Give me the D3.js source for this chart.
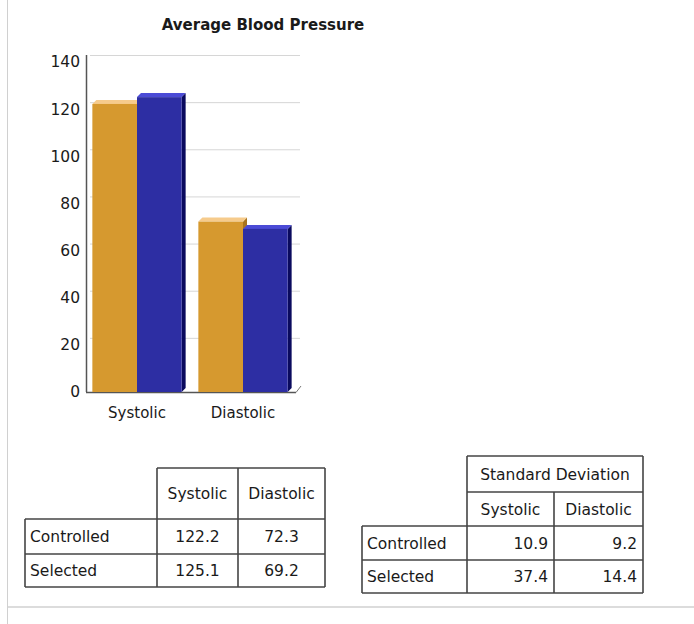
<!DOCTYPE html>
<meta charset="utf-8">
<style>
body { margin: 0; background: #fff; }
text { font-family: "DejaVu Sans", Verdana, sans-serif; fill: #1a1a1a; }
</style>
<body>
<script src="https://d3js.org/d3.v7.min.js"></script>
<script>

var categories = ["Systolic", "Diastolic"];
var seriesNames = ["Controlled", "Selected"];
var controlled = [122.2, 72.3];
var selected = [125.1, 69.2];
var sdControlled = [10.9, 9.2];
var sdSelected = [37.4, 14.4];
var yTicks = [0, 20, 40, 60, 80, 100, 120, 140];

var width = 694, height = 624;
var depth = 4, wallShift = 7;
var cellFont = "15.5px";

var svg = d3.select("body").append("svg")
    .attr("width", width)
    .attr("height", height);

// page frame
svg.append("line").attr("x1", 7.5).attr("x2", 7.5).attr("y1", 0).attr("y2", height)
    .attr("stroke", "#d0d0d0");
svg.append("line").attr("x1", 8).attr("x2", width).attr("y1", 607).attr("y2", 607)
    .attr("stroke", "#dcdcdc").attr("stroke-width", 2);

svg.append("text")
    .attr("x", 263).attr("y", 30)
    .attr("text-anchor", "middle")
    .style("font-weight", "bold").style("font-size", "15px")
    .text("Average Blood Pressure");

var y = d3.scaleLinear().domain([0, 140]).range([392, 62]);
var x = d3.scaleBand().domain(categories).range([86, 298])
    .paddingInner(0.12).paddingOuter(0.06);
var xs = d3.scaleBand().domain(seriesNames).range([0, x.bandwidth() - depth]);

// back wall gridlines
svg.append("g").selectAll("line").data(yTicks.filter(function(d) { return d > 0; }))
  .join("line")
    .attr("x1", 90).attr("x2", 300)
    .attr("y1", function(d) { return y(d) - wallShift + 0.5; })
    .attr("y2", function(d) { return y(d) - wallShift + 0.5; })
    .attr("stroke", "#d6d6d6");

// y axis
var yAxis = svg.append("g").attr("transform", "translate(86,0)")
    .call(d3.axisLeft(y).tickValues(yTicks).tickSize(0).tickPadding(6));
yAxis.select(".domain").remove();
yAxis.selectAll("text").style("font-size", "15.5px").attr("fill", "#1a1a1a");
svg.append("line").attr("x1", 86.5).attr("x2", 86.5).attr("y1", 55).attr("y2", 392)
    .attr("stroke", "#555").attr("stroke-width", 1.5);
svg.append("line").attr("x1", 86).attr("x2", 296).attr("y1", 392.5).attr("y2", 392.5)
    .attr("stroke", "#555").attr("stroke-width", 1.5);
svg.append("line").attr("x1", 296).attr("x2", 301).attr("y1", 392.5).attr("y2", 386)
    .attr("stroke", "#777");

// bars
var styles = {
  Controlled: { front: "#d6992f", top: "#f6cb8c", side: "#a8741e" },
  Selected: { front: "#2d2ea3", top: "#4b4bd6", side: "#0a0a5e" }
};
var rows = [];
categories.forEach(function(c, i) {
  rows.push({ cat: c, s: "Controlled", v: controlled[i] });
  rows.push({ cat: c, s: "Selected", v: selected[i] });
});

var bars = svg.append("g").selectAll("g").data(rows).join("g")
    .attr("transform", function(d) { return "translate(" + (x(d.cat) + xs(d.s)) + ",0)"; });
var bw = xs.bandwidth();
bars.append("path")
    .attr("fill", function(d) { return styles[d.s].side; })
    .attr("d", function(d) {
      var t = y(d.v), b = y(0);
      return "M" + bw + "," + t + "L" + (bw + depth) + "," + (t - depth) +
        "L" + (bw + depth) + "," + (b - depth) + "L" + bw + "," + b + "Z";
    });
bars.append("path")
    .attr("fill", function(d) { return styles[d.s].top; })
    .attr("d", function(d) {
      var t = y(d.v);
      return "M0," + t + "L" + depth + "," + (t - depth) + "L" + (bw + depth) + "," + (t - depth) +
        "L" + bw + "," + t + "Z";
    });
bars.append("rect")
    .attr("x", 0).attr("width", bw)
    .attr("y", function(d) { return y(d.v); })
    .attr("height", function(d) { return y(0) - y(d.v); })
    .attr("fill", function(d) { return styles[d.s].front; });

svg.append("g").selectAll("text").data(categories).join("text")
    .attr("x", function(d) { return x(d) + (x.bandwidth() - depth) / 2; })
    .attr("y", 418)
    .attr("text-anchor", "middle")
    .style("font-size", "15px")
    .text(function(d) { return d; });

// tables
function drawTable(cols, rowsY, headRows, body, align) {
  var g = svg.append("g");
  var lines = [];
  var firstBodyRow = headRows.length;
  for (var r = 0; r < rowsY.length - 1; r++) {
    var x0 = r < firstBodyRow ? cols[1] : cols[0];
    lines.push([x0, rowsY[r], cols[cols.length - 1], rowsY[r]]);
  }
  lines.push([cols[0], rowsY[rowsY.length - 1], cols[cols.length - 1], rowsY[rowsY.length - 1]]);
  lines.push([cols[0], rowsY[firstBodyRow], cols[0], rowsY[rowsY.length - 1]]);
  lines.push([cols[1], rowsY[0], cols[1], rowsY[rowsY.length - 1]]);
  lines.push([cols[3], rowsY[0], cols[3], rowsY[rowsY.length - 1]]);
  lines.push([cols[2], rowsY[headRows.length - 1], cols[2], rowsY[rowsY.length - 1]]);
  g.selectAll("line").data(lines).join("line")
      .attr("x1", function(d) { return d[0]; }).attr("y1", function(d) { return d[1]; })
      .attr("x2", function(d) { return d[2]; }).attr("y2", function(d) { return d[3]; })
      .attr("stroke", "#444").attr("stroke-width", 1.6);

  headRows.forEach(function(h, r) {
    var cy = (rowsY[r] + rowsY[r + 1]) / 2 + 5.5;
    if (h.length === 1) {
      g.append("text").attr("x", (cols[1] + cols[3]) / 2).attr("y", cy)
          .attr("text-anchor", "middle").style("font-size", cellFont).text(h[0]);
    } else {
      h.forEach(function(t, i) {
        g.append("text").attr("x", (cols[i + 1] + cols[i + 2]) / 2).attr("y", cy)
            .attr("text-anchor", "middle").style("font-size", cellFont).text(t);
      });
    }
  });
  body.forEach(function(row, r) {
    var cy = (rowsY[firstBodyRow + r] + rowsY[firstBodyRow + r + 1]) / 2 + 5.5;
    g.append("text").attr("x", cols[0] + 5).attr("y", cy)
        .style("font-size", cellFont).text(row.name);
    row.vals.forEach(function(v, i) {
      g.append("text")
          .attr("x", align === "middle" ? (cols[i + 1] + cols[i + 2]) / 2 : cols[i + 2] - 6)
          .attr("y", cy)
          .attr("text-anchor", align)
          .style("font-size", cellFont)
          .text(v.toFixed(1));
    });
  });
}

drawTable([25, 157, 238, 325], [468, 519, 554, 587], [categories],
  [{ name: seriesNames[0], vals: controlled }, { name: seriesNames[1], vals: selected }], "middle");
drawTable([362, 467, 554, 643], [456, 492, 526, 560, 593], [["Standard Deviation"], categories],
  [{ name: seriesNames[0], vals: sdControlled }, { name: seriesNames[1], vals: sdSelected }], "end");

</script>
</body>
